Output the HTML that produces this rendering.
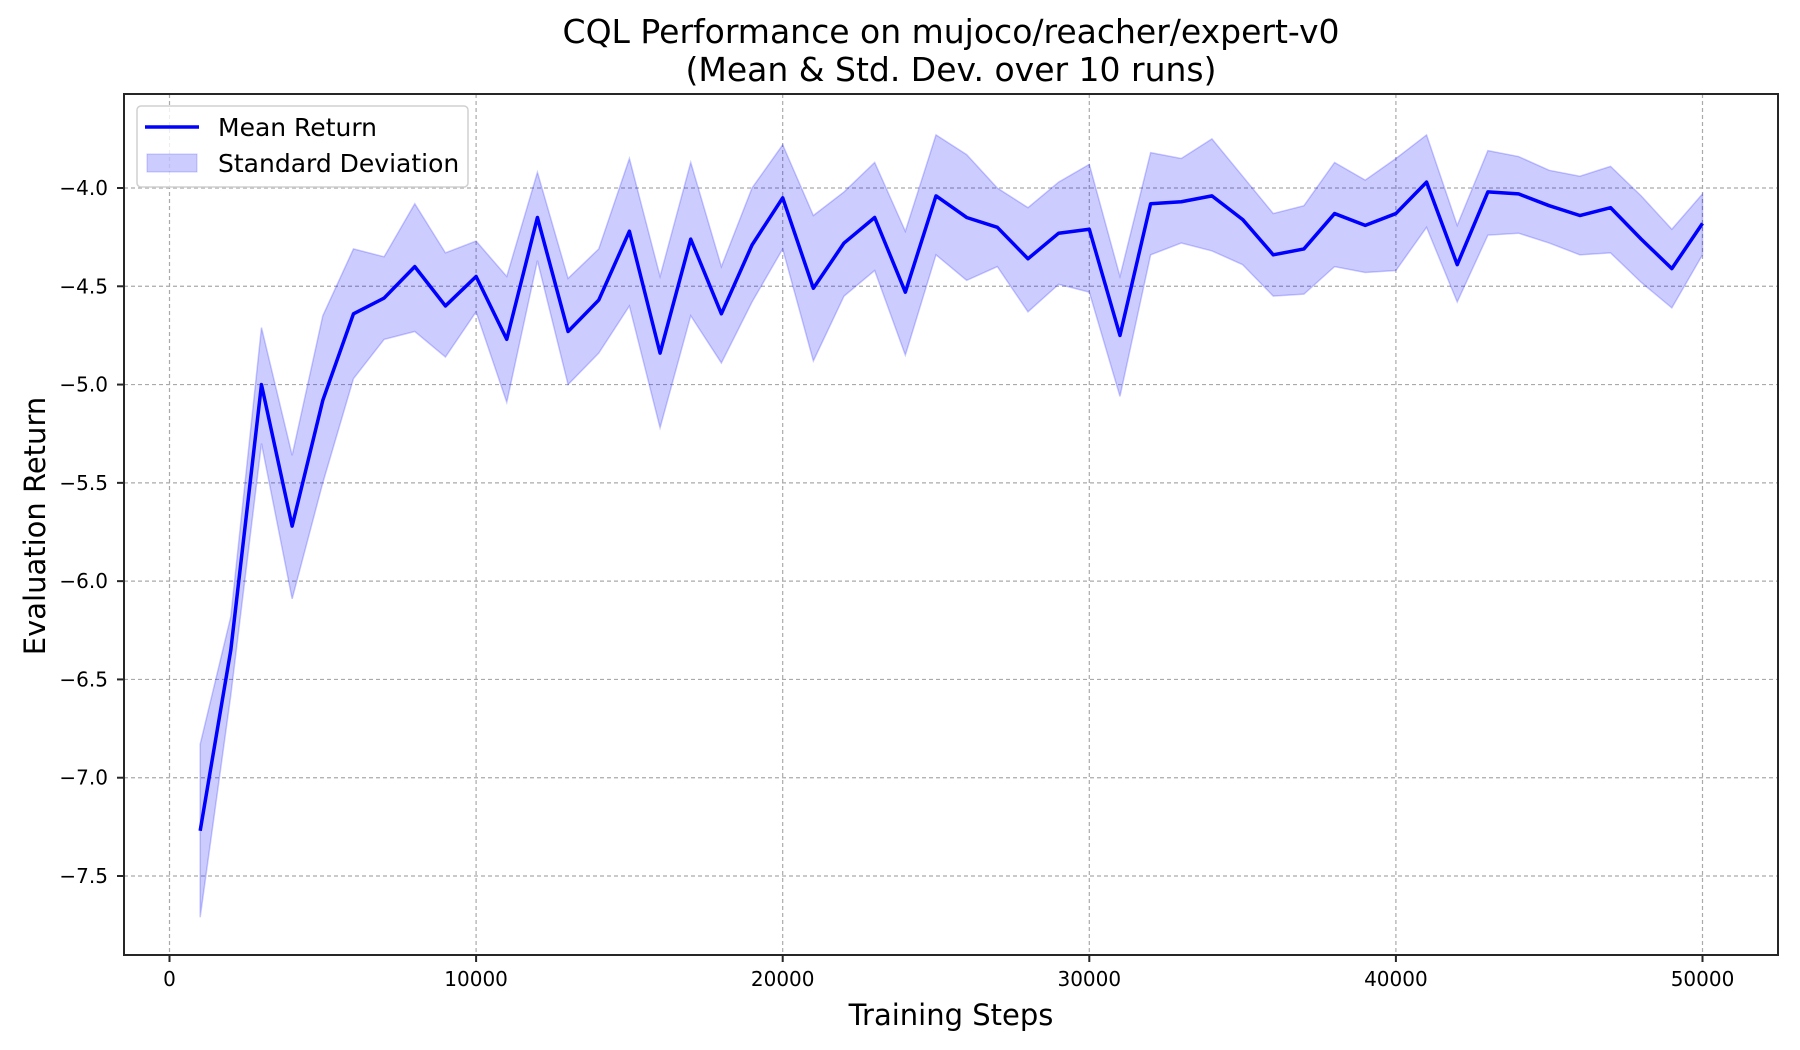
<!DOCTYPE html>
<html><head><meta charset="utf-8"><style>
html,body{margin:0;padding:0;background:#fff;}
svg{display:block;font-family:"DejaVu Sans","Liberation Sans",sans-serif;}
</style></head><body>
<svg id="chart" width="1800" height="1050" xmlns="http://www.w3.org/2000/svg">
<rect width="1800" height="1050" fill="#fff"/>
<text x="951" y="43" font-size="33" text-anchor="middle">CQL Performance on mujoco/reacher/expert-v0</text>
<text x="951" y="81" font-size="33" text-anchor="middle">(Mean &amp; Std. Dev. over 10 runs)</text>
<g id="grid"></g>
<g id="band"></g>
<g id="line"></g>
<g id="xticks"></g>
<g id="yticks"></g>
<rect x="124" y="94" width="1654" height="861" fill="none" stroke="#262626" stroke-width="2"/>
<text x="951" y="1025" font-size="29" text-anchor="middle">Training Steps</text>
<text transform="translate(45,526) rotate(-90)" font-size="29" text-anchor="middle">Evaluation Return</text>
<g>
<rect x="137" y="106" width="331" height="81" rx="4" fill="#fff" fill-opacity="0.8" stroke="#d0d0d0" stroke-width="1.5"/>
<line x1="145" y1="127" x2="199" y2="127" stroke="#0000ff" stroke-width="3.5"/>
<text x="218" y="136" font-size="25">Mean Return</text>
<rect x="147" y="154" width="50" height="18" fill="#0000ff" fill-opacity="0.2" stroke="#0000ff" stroke-opacity="0.2"/>
<text x="218" y="172" font-size="25">Standard Deviation</text>
</g>
</svg>
<script>
const steps = [1000,2000,3000,4000,5000,6000,7000,8000,9000,10000,11000,12000,13000,14000,15000,16000,17000,18000,19000,20000,21000,22000,23000,24000,25000,26000,27000,28000,29000,30000,31000,32000,33000,34000,35000,36000,37000,38000,39000,40000,41000,42000,43000,44000,45000,46000,47000,48000,49000,50000];
const meanReturn = [-7.27,-6.35,-5.0,-5.72,-5.08,-4.64,-4.56,-4.40,-4.60,-4.45,-4.77,-4.15,-4.73,-4.57,-4.22,-4.84,-4.26,-4.64,-4.29,-4.05,-4.51,-4.28,-4.15,-4.53,-4.04,-4.15,-4.20,-4.36,-4.23,-4.21,-4.75,-4.08,-4.07,-4.04,-4.16,-4.34,-4.31,-4.13,-4.19,-4.13,-3.97,-4.39,-4.02,-4.03,-4.09,-4.14,-4.10,-4.26,-4.41,-4.18];
const upperBand = [-6.83,-6.18,-4.71,-5.36,-4.65,-4.31,-4.35,-4.08,-4.33,-4.27,-4.45,-3.92,-4.46,-4.31,-3.85,-4.45,-3.87,-4.40,-4.00,-3.78,-4.14,-4.02,-3.87,-4.22,-3.73,-3.83,-4.00,-4.10,-3.97,-3.88,-4.45,-3.82,-3.85,-3.75,-3.94,-4.13,-4.09,-3.87,-3.96,-3.85,-3.73,-4.19,-3.81,-3.84,-3.91,-3.94,-3.89,-4.04,-4.21,-4.03];
const lowerBand = [-7.71,-6.58,-5.30,-6.09,-5.50,-4.97,-4.77,-4.73,-4.86,-4.63,-5.09,-4.37,-5.00,-4.84,-4.60,-5.22,-4.65,-4.89,-4.58,-4.31,-4.88,-4.55,-4.42,-4.85,-4.34,-4.47,-4.40,-4.63,-4.49,-4.53,-5.06,-4.34,-4.28,-4.32,-4.39,-4.55,-4.54,-4.40,-4.43,-4.42,-4.20,-4.58,-4.24,-4.23,-4.28,-4.34,-4.33,-4.48,-4.61,-4.34];
const xTicks = [0,10000,20000,30000,40000,50000];
const yTicks = [-7.5,-7.0,-6.5,-6.0,-5.5,-5.0,-4.5,-4.0];

const NS = "http://www.w3.org/2000/svg";
function X(v){ return 169.5 + v*(1702.5-169.5)/50000; }
function Y(v){ return 876 + (v+7.5)*(188-876)/3.5; }
function mk(tag, attrs, parent){
  const e = document.createElementNS(NS, tag);
  for (const k in attrs) e.setAttribute(k, attrs[k]);
  parent.appendChild(e); return e;
}
const grid = document.getElementById('grid');
const xg = document.getElementById('xticks');
const yg = document.getElementById('yticks');
xTicks.forEach(t => {
  const gl = mk('line', {x1:X(t), x2:X(t), y1:94, y2:955, stroke:'#aaaaaa', 'stroke-width':1.2, 'stroke-dasharray':'4,3'}, grid);
  
  
  const tk = mk('line', {x1:X(t), x2:X(t), y1:955, y2:962, stroke:'#262626', 'stroke-width':2}, xg);
  
  
  const lb = mk('text', {x:X(t), y:986, 'font-size':20, 'text-anchor':'middle'}, xg);
  lb.textContent = String(t);
  
  
});
yTicks.forEach(t => {
  const gl = mk('line', {x1:124, x2:1778, y1:Y(t), y2:Y(t), stroke:'#aaaaaa', 'stroke-width':1.2, 'stroke-dasharray':'4,3'}, grid);
  
  
  const tk = mk('line', {x1:117, x2:124, y1:Y(t), y2:Y(t), stroke:'#262626', 'stroke-width':2}, yg);
  
  
  const lb = mk('text', {x:108, y:Y(t)+7, 'font-size':20, 'text-anchor':'end'}, yg);
  lb.textContent = '\u2212' + Math.abs(t).toFixed(1);
  
  
});
let pts = steps.map((s,i)=>X(s)+','+Y(upperBand[i]));
for (let i=steps.length-1;i>=0;i--) pts.push(X(steps[i])+','+Y(lowerBand[i]));
const band = mk('polygon', {points:pts.join(' '), fill:'#0000ff', 'fill-opacity':0.2, stroke:'#0000ff', 'stroke-opacity':0.2, 'stroke-width':1.5}, document.getElementById('band'));


const ln = mk('polyline', {points:steps.map((s,i)=>X(s)+','+Y(meanReturn[i])).join(' '), fill:'none', stroke:'#0000ff', 'stroke-width':3.5, 'stroke-linejoin':'round'}, document.getElementById('line'));


</script>
</body></html>
